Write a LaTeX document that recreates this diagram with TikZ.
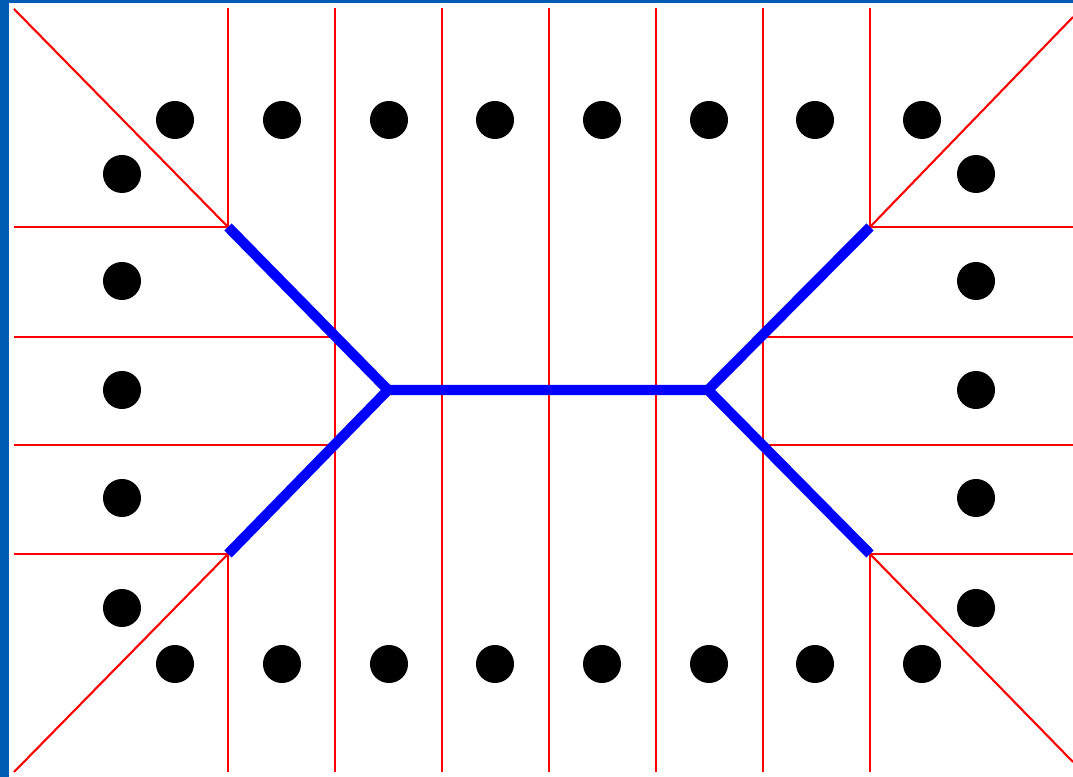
\documentclass[tikz,border=0pt]{standalone}
\definecolor{slideBlue}{RGB}{0,92,178}
\definecolor{cellRed}{RGB}{255,0,0}
\definecolor{skelBlue}{RGB}{0,0,255}
\usetikzlibrary{calc}

\begin{document}
\begin{tikzpicture}[
        x=0.01cm, y=-0.01cm,
        cell/.style={draw=cellRed, line width=0.6pt},
        skeleton/.style={draw=skelBlue, line width=2.9pt, line join=miter},
        site/.style={fill=black}
    ]
        % Slide background and white panel
        \fill[slideBlue] (0,0) rectangle (1073,777);
        \fill[white] (9,3) rectangle (1073,777);
        \useasboundingbox (0,0) rectangle (1073,777);

        % Corner points of the skeleton
        \coordinate (tl) at (228,227);
        \coordinate (bl) at (228,554);
        \coordinate (tr) at (870,227);
        \coordinate (br) at (870,554);
        \coordinate (jl) at (388,390);
        \coordinate (jr) at (708,390);

        % Diagonal cell borders
        \draw[cell] (14,9) -- (tl);
        \draw[cell] (14,772) -- (bl);
        \draw[cell] (1073,17) -- (tr);
        \draw[cell] (1073,762) -- (br);

        % Short vertical borders
        \draw[cell] (tl) -- (228,8);
        \draw[cell] (bl) -- (228,772);
        \draw[cell] (tr) -- (870,8);
        \draw[cell] (br) -- (870,772);

        % Full vertical borders
        \foreach \x in {335, 442, 549, 656, 763} {
            \draw[cell] (\x,8) -- (\x,772);
        }

        % Horizontal borders
        \draw[cell] (14,227) -- (tl);
        \draw[cell] (14,554) -- (bl);
        \draw[cell] (tr) -- (1073,227);
        \draw[cell] (br) -- (1073,554);
        \foreach \y in {337, 445} {
            \draw[cell] (14,\y) -- (335,\y);
            \draw[cell] (763,\y) -- (1073,\y);
        }

        % Skeleton
        \draw[skeleton] (tl) -- (jl) -- (jr) -- (tr);
        \draw[skeleton] (bl) -- (jl);
        \draw[skeleton] (br) -- (jr);

        % Sites along top and bottom
        \foreach \x in {175, 282, 389, 495, 602, 709, 815, 922} {
            \fill[site] (\x,120) circle[radius=0.19cm];
            \fill[site] (\x,664) circle[radius=0.19cm];
        }
        % Sites along left and right
        \foreach \y in {174, 281, 390, 498, 608} {
            \fill[site] (122,\y) circle[radius=0.19cm];
            \fill[site] (976,\y) circle[radius=0.19cm];
        }
    \end{tikzpicture}
\end{document}
